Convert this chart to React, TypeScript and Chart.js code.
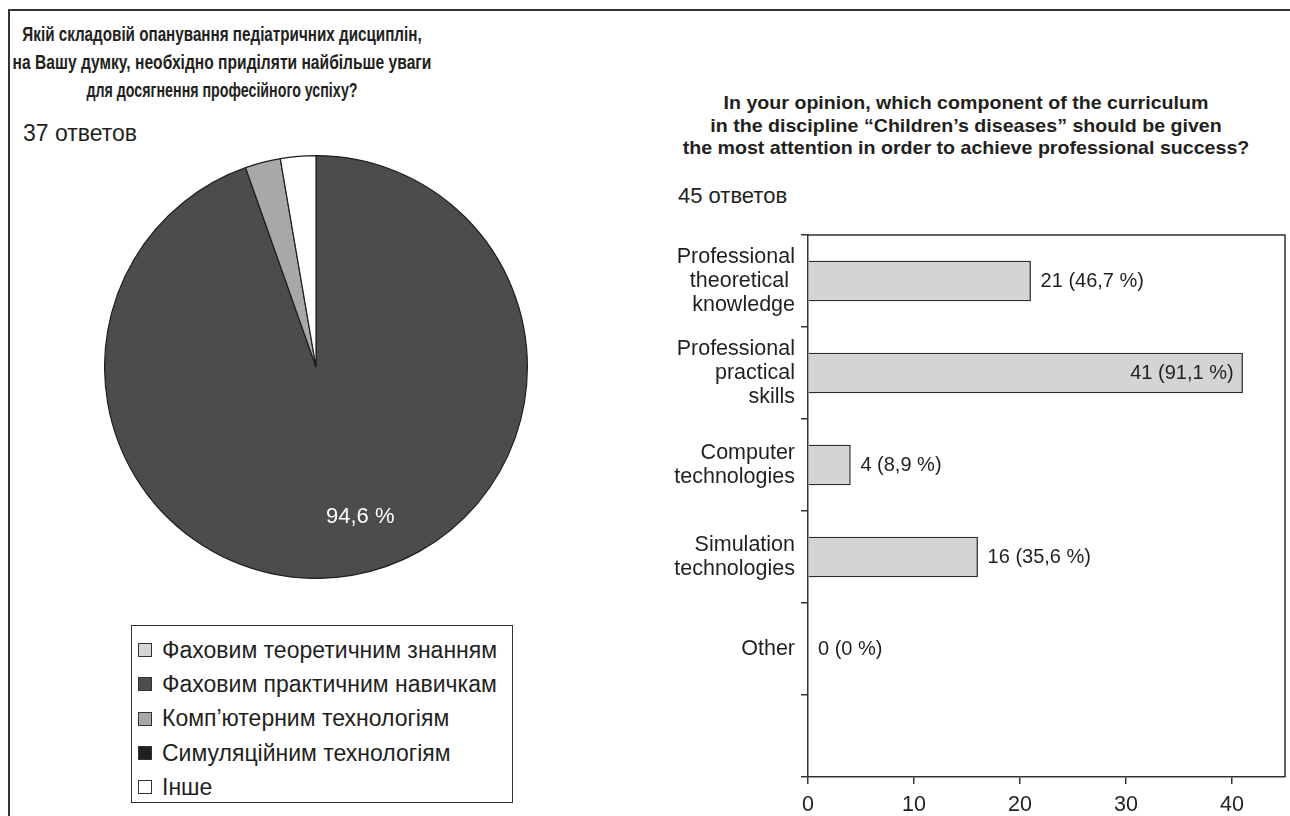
import React, { useEffect, useRef } from "react";
import { Chart, registerables } from "chart.js";

Chart.register(...registerables);

// ---------- data ----------
const pieTitleLines = [
  "Якій складовій опанування педіатричних дисциплін,",
  "на Вашу думку, необхідно приділяти найбільше уваги",
  "для досягнення професійного успіху?",
];
const pieResponses = "37 ответов";
const pieLabels = [
  "Фаховим теоретичним знанням",
  "Фаховим практичним навичкам",
  "Комп’ютерним технологіям",
  "Симуляційним технологіям",
  "Інше",
];
const pieValues = [0, 35, 1, 0, 1];
const pieColors = ["#d4d5d6", "#4b4c4e", "#a7a8aa", "#231f20", "#ffffff"];

const barTitleLines = [
  "In your opinion, which component of the curriculum",
  "in the discipline “Children’s diseases” should be given",
  "the most attention in order to achieve professional success?",
];
const barResponses = "45 ответов";
const barCategories = [
  ["Professional", "theoretical ", "knowledge"],
  ["Professional", "practical", "skills"],
  ["Computer", "technologies"],
  ["Simulation", "technologies"],
  ["Other"],
];
const barValues = [21, 41, 4, 16, 0];
const barPercents = ["46,7", "91,1", "8,9", "35,6", "0"];
const xTickValues = [0, 10, 20, 30, 40];

// styling (horizontal squeeze of each left-title line)
const pieTitleSqueeze = [0.78, 0.8, 0.73];

const FONT = "'Liberation Sans', Arial, sans-serif";
const INK = "#231f20";

function PieChart() {
  const ref = useRef<HTMLCanvasElement | null>(null);
  useEffect(() => {
    if (!ref.current) return;
    const total = pieValues.reduce((a, b) => a + b, 0);
    const labelPlugin = {
      id: "pieLabel",
      afterDatasetsDraw(chart: any) {
        const ctx = chart.ctx;
        const meta = chart.getDatasetMeta(0);
        meta.data.forEach((arc: any, i: number) => {
          const v = pieValues[i];
          if (v / total < 0.1) return;
          const p = arc.getProps(["x", "y", "startAngle", "endAngle", "outerRadius"], true);
          const mid = (p.startAngle + p.endAngle) / 2 - 0.117;
          const r = p.outerRadius * 0.74;
          const text = `${((v / total) * 100).toFixed(1).replace(".", ",")} %`;
          ctx.save();
          ctx.fillStyle = "#ffffff";
          ctx.font = `22px ${FONT}`;
          ctx.textAlign = "center";
          ctx.textBaseline = "middle";
          ctx.fillText(text, p.x + Math.cos(mid) * r, p.y + Math.sin(mid) * r);
          ctx.restore();
        });
      },
    };
    const chart = new Chart(ref.current, {
      type: "pie",
      data: {
        labels: pieLabels,
        datasets: [
          {
            data: pieValues,
            backgroundColor: pieColors,
            borderColor: "#1e1e1e",
            borderWidth: 1.2,
          },
        ],
      },
      options: {
        animation: false,
        responsive: false,
        maintainAspectRatio: false,
        layout: { padding: 0 },
        plugins: { legend: { display: false }, tooltip: { enabled: false } },
      },
      plugins: [labelPlugin],
    } as any);
    return () => chart.destroy();
  }, []);
  return (
    <canvas
      ref={ref}
      width={424}
      height={424}
      style={{ position: "absolute", left: 104, top: 155, width: 424, height: 424 }}
    />
  );
}

function BarChart() {
  const ref = useRef<HTMLCanvasElement | null>(null);
  useEffect(() => {
    if (!ref.current) return;
    const total = 45;
    const framePlugin = {
      id: "frame",
      afterDraw(chart: any) {
        const { ctx, chartArea } = chart;
        ctx.save();
        ctx.strokeStyle = "#333";
        ctx.lineWidth = 1.5;
        ctx.beginPath();
        ctx.moveTo(chartArea.left, chartArea.top);
        ctx.lineTo(chartArea.right, chartArea.top);
        ctx.lineTo(chartArea.right, chartArea.bottom);
        ctx.stroke();
        ctx.restore();
      },
    };
    const valuePlugin = {
      id: "values",
      afterDatasetsDraw(chart: any) {
        const ctx = chart.ctx;
        const meta = chart.getDatasetMeta(0);
        ctx.save();
        ctx.font = `20px ${FONT}`;
        ctx.fillStyle = INK;
        ctx.textBaseline = "middle";
        meta.data.forEach((bar: any, i: number) => {
          const p = bar.getProps(["x", "y"], true);
          const text = `${barValues[i]} (${barPercents[i]} %)`;
          const w = ctx.measureText(text).width;
          if (p.x + 10 + w > chart.chartArea.right) {
            ctx.textAlign = "right";
            ctx.fillText(text, p.x - 9, p.y);
          } else {
            ctx.textAlign = "left";
            ctx.fillText(text, p.x + 10, p.y);
          }
        });
        ctx.restore();
      },
    };
    const yTickValues = [-0.5, 0, 0.5, 1, 1.5, 2, 2.5, 3, 3.5, 4, 4.5, 5.391];
    const chart = new Chart(ref.current, {
      type: "bar",
      data: {
        datasets: [
          {
            data: barValues.map((v, i) => ({ x: v, y: i })),
            backgroundColor: "#d3d4d5",
            borderColor: "#2a2a2a",
            borderWidth: 1.3,
            barThickness: 40,
          },
        ],
      },
      options: {
        indexAxis: "y",
        animation: false,
        responsive: false,
        maintainAspectRatio: false,
        layout: { padding: { top: 2, right: 5, left: 0, bottom: 0 } },
        plugins: { legend: { display: false }, tooltip: { enabled: false } },
        scales: {
          x: {
            type: "linear",
            min: 0,
            max: total,
            position: "bottom",
            afterBuildTicks: (s: any) => {
              s.ticks = xTickValues.map((v) => ({ value: v }));
            },
            grid: { drawOnChartArea: false, tickLength: 7, color: "#333", lineWidth: 1.5 },
            border: { color: "#333", width: 1.5 },
            ticks: { font: { size: 21.5, family: FONT }, color: INK, padding: 8 },
            afterFit: (s: any) => {
              s.height = 39;
            },
          },
          y: {
            type: "linear",
            reverse: true,
            min: -0.5,
            max: 5.391,
            offset: false,
            afterBuildTicks: (s: any) => {
              s.ticks = yTickValues.map((v) => ({ value: v }));
            },
            ticks: {
              autoSkip: false,
              font: { size: 21.5, family: FONT, lineHeight: 1.12 },
              color: INK,
              padding: 6,
              callback: (v: any) =>
                Number.isInteger(v) && v >= 0 && v < barCategories.length ? barCategories[v] : "",
            },
            grid: {
              offset: false,
              drawOnChartArea: false,
              tickLength: 7,
              lineWidth: 1.5,
              tickColor: (c: any) =>
                c.tick && Number.isInteger(c.tick.value) ? "rgba(0,0,0,0)" : "#333",
            },
            border: { color: "#333", width: 1.5 },
            afterFit: (s: any) => {
              s.width = 148;
            },
          },
        },
      },
      plugins: [framePlugin, valuePlugin],
    } as any);
    return () => chart.destroy();
  }, []);
  return (
    <canvas
      ref={ref}
      width={630}
      height={599}
      style={{ position: "absolute", left: 660, top: 217, width: 630, height: 599 }}
    />
  );
}

export default function App() {
  return (
    <div
      style={{
        position: "absolute",
        left: 0,
        top: 0,
        width: 1290,
        height: 816,
        background: "#fff",
        fontFamily: FONT,
        color: INK,
        overflow: "hidden",
      }}
    >
      {/* frame */}
      <div style={{ position: "absolute", left: 8, top: 9, width: 1282, height: 2, background: "#333" }} />
      <div style={{ position: "absolute", left: 8, top: 9, width: 2, height: 807, background: "#333" }} />

      {/* left title */}
      <div
        style={{
          position: "absolute",
          left: -78,
          top: 20,
          width: 600,
          textAlign: "center",
          fontWeight: "bold",
          fontSize: 19.5,
          lineHeight: "28px",
          whiteSpace: "nowrap",
        }}
      >
        {pieTitleLines.map((l, i) => (
          <div key={i} style={{ transform: `scaleX(${pieTitleSqueeze[i]})` }}>
            {l}
          </div>
        ))}
      </div>
      <div style={{ position: "absolute", left: 23, top: 119, fontSize: 23, lineHeight: "28px" }}>
        {pieResponses}
      </div>

      <PieChart />

      {/* legend */}
      <div
        style={{
          position: "absolute",
          left: 131,
          top: 625,
          width: 382,
          height: 178,
          boxSizing: "border-box",
          border: "1.5px solid #333",
          paddingTop: 7,
        }}
      >
        {pieLabels.map((l, i) => (
          <div key={i} style={{ display: "flex", alignItems: "center", height: 34.3, paddingLeft: 6 }}>
            <span
              style={{
                display: "inline-block",
                width: 14,
                height: 14,
                flex: "none",
                boxSizing: "border-box",
                border: "1px solid #333",
                background: pieColors[i],
                marginRight: 10,
              }}
            />
            <span style={{ fontSize: 23, whiteSpace: "nowrap" }}>{l}</span>
          </div>
        ))}
      </div>

      {/* right title */}
      <div
        style={{
          position: "absolute",
          left: 616,
          top: 92,
          width: 700,
          textAlign: "center",
          fontWeight: "bold",
          fontSize: 18.5,
          lineHeight: "22.5px",
          whiteSpace: "nowrap",
          transform: "scaleX(1.06)",
        }}
      >
        {barTitleLines.map((l, i) => (
          <div key={i}>{l}</div>
        ))}
      </div>
      <div style={{ position: "absolute", left: 678, top: 183, fontSize: 22, lineHeight: "26px" }}>
        {barResponses}
      </div>

      <BarChart />
    </div>
  );
}
